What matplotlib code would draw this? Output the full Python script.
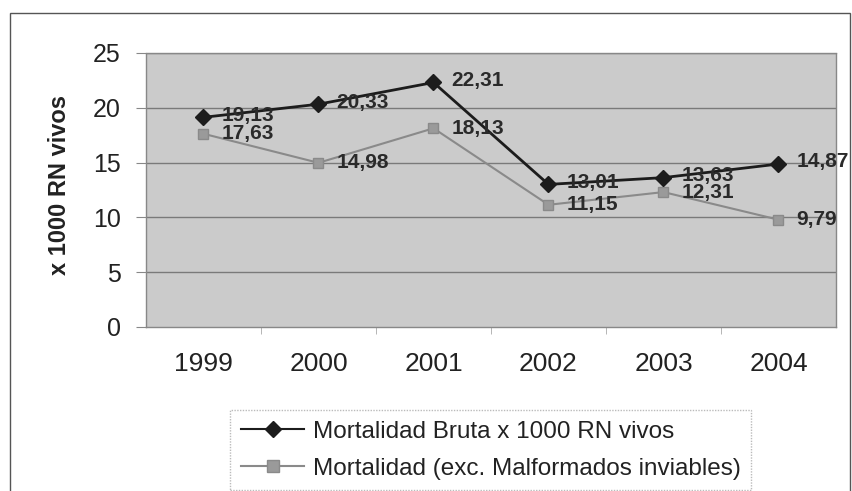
import matplotlib
matplotlib.use("Agg")
import matplotlib.pyplot as plt
from matplotlib.patches import Rectangle
from matplotlib.lines import Line2D

plt.rcParams['font.family'] = ['Liberation Sans', 'DejaVu Sans']

years = ["1999", "2000", "2001", "2002", "2003", "2004"]
bruta = [19.13, 20.33, 22.31, 13.01, 13.63, 14.87]
exc_malf = [17.63, 14.98, 18.13, 11.15, 12.31, 9.79]
label_bruta = "Mortalidad Bruta x 1000 RN vivos"
label_exc = "Mortalidad (exc. Malformados inviables)"
y_ticks = [0, 5, 10, 15, 20, 25]


def fmt(v):
    return f"{v:.2f}".replace(".", ",")


fig = plt.figure(figsize=(8.53, 4.91), dpi=100)
fig.patch.set_facecolor("white")

# outer chart frame
frame = Rectangle((10 / 853, -0.05), (850 - 10) / 853, 1 - 13 / 491 + 0.05,
                  transform=fig.transFigure, fill=False,
                  edgecolor="#555555", linewidth=1.0)
fig.add_artist(frame)

ax = fig.add_axes([146 / 853, 1 - 327 / 491, (836 - 146) / 853, (327 - 53) / 491])
ax.set_facecolor("#cbcbcb")

x = list(range(len(years)))
ax.set_xlim(-0.5, len(years) - 0.5)
ax.set_ylim(0, 25)

for v in y_ticks[1:]:
    ax.axhline(v, color="#7a7a7a", linewidth=1.0, zorder=1)

ax.plot(x, exc_malf, color="#8a8a8a", linewidth=1.5, marker="s",
        markersize=7.5, markerfacecolor="#9a9a9a", markeredgecolor="#8a8a8a",
        zorder=3, label=label_exc)
ax.plot(x, bruta, color="#1c1c1c", linewidth=2.0, marker="D",
        markersize=8, markerfacecolor="#1c1c1c", markeredgecolor="#1c1c1c",
        zorder=4, label=label_bruta)

for xi, v in zip(x, bruta):
    ax.annotate(fmt(v), (xi, v), xytext=(13, 1.5), textcoords="offset points",
                ha="left", va="center", fontsize=15, fontweight="bold",
                color="#2a2a2a", zorder=5)
for xi, v in zip(x, exc_malf):
    ax.annotate(fmt(v), (xi, v), xytext=(13, 0), textcoords="offset points",
                ha="left", va="center", fontsize=15, fontweight="bold",
                color="#2a2a2a", zorder=5)

ax.set_yticks(y_ticks)
ax.set_yticklabels([str(t) for t in y_ticks], fontsize=18, color="#222222")
ax.set_xticks(x)
ax.set_xticklabels(years, fontsize=19, color="#222222")
ax.set_xticks([i + 0.5 for i in x[:-1]], minor=True)
ax.tick_params(axis="x", which="major", length=0, pad=18)
ax.tick_params(axis="x", which="minor", length=5, color="#aaaaaa")
ax.tick_params(axis="y", length=7, color="#888888", pad=11)

for side in ["top", "right", "left", "bottom"]:
    ax.spines[side].set_color("#888888")
    ax.spines[side].set_linewidth(1.0)
    ax.spines[side].set_linestyle((0, (1, 1)))

fig.text(60 / 853, 1 - 185 / 491, "x 1000 RN vivos", rotation=90,
         ha="center", va="center", fontsize=17, fontweight="bold",
         color="#222222")

handles = [
    Line2D([], [], color="#1c1c1c", linewidth=1.5, marker="D", markersize=8),
    Line2D([], [], color="#8a8a8a", linewidth=1.5, marker="s", markersize=8,
           markerfacecolor="#9a9a9a"),
]
leg = fig.legend(handles, [label_bruta, label_exc], loc="upper left",
                 bbox_to_anchor=(230 / 853, 1 - 410 / 491), fontsize=17.5,
                 frameon=True, fancybox=False, handlelength=2.6,
                 handletextpad=0.35, borderpad=0.45, labelspacing=0.6,
                 borderaxespad=0)
leg.get_frame().set_edgecolor("#aaaaaa")
leg.get_frame().set_linestyle((0, (1, 1)))
leg.get_frame().set_linewidth(1.0)
for t in leg.get_texts():
    t.set_color("#222222")

fig.savefig("out.png", dpi=100)
